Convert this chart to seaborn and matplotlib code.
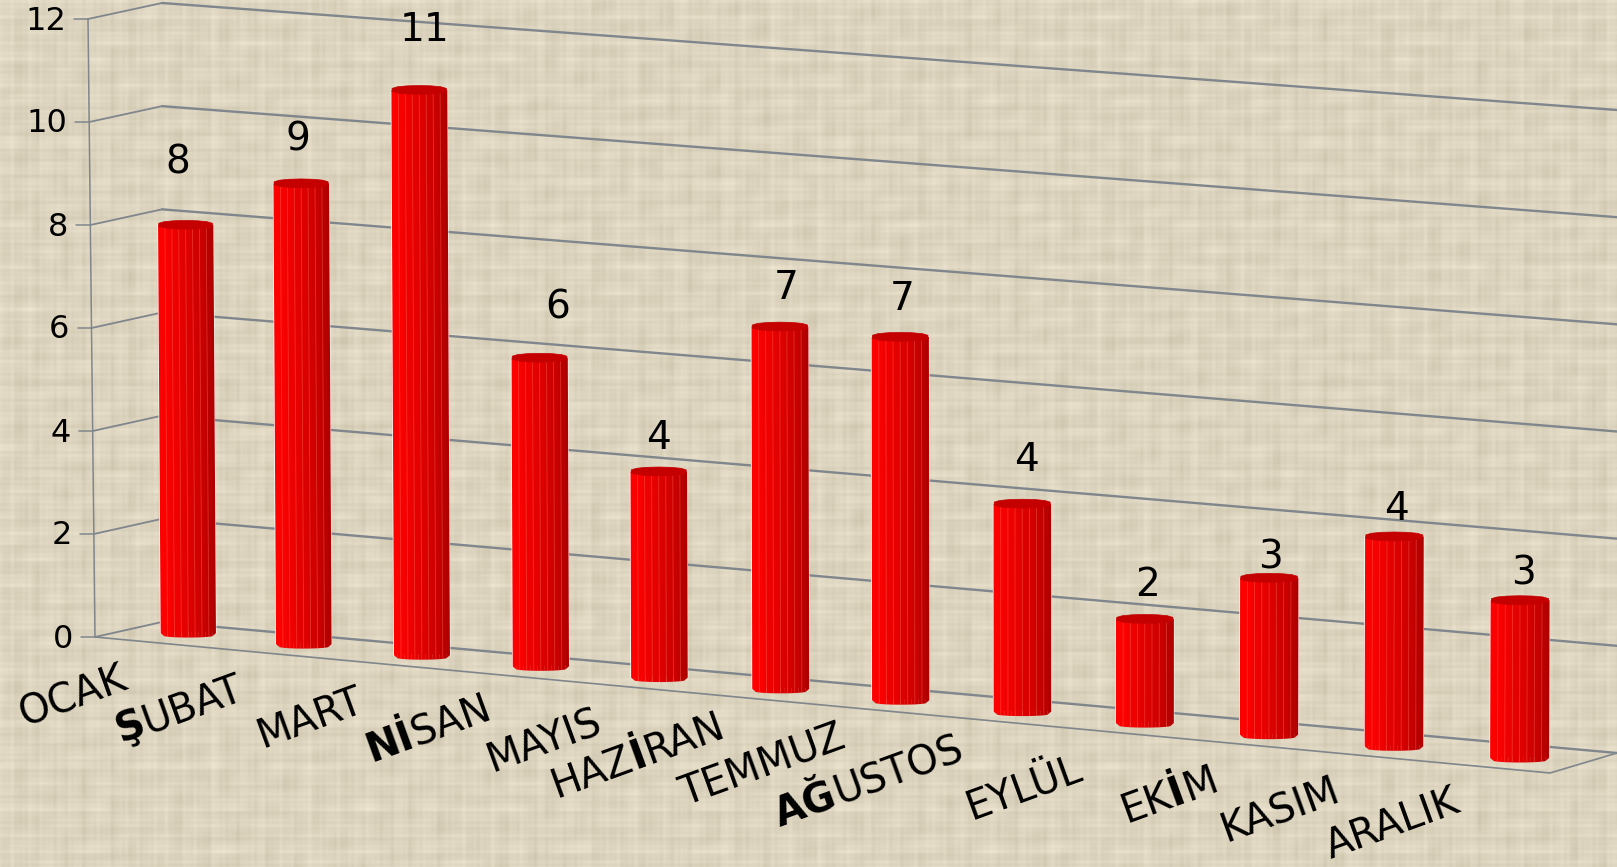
import numpy as np
import pandas as pd
import seaborn as sns
import matplotlib
matplotlib.use("Agg")
import matplotlib.pyplot as plt
from matplotlib.patches import Polygon
from matplotlib.transforms import Affine2D, Transform

months = ["OCAK", "ŞUBAT", "MART", "NİSAN", "MAYIS", "HAZİRAN",
          "TEMMUZ", "AĞUSTOS", "EYLÜL", "EKİM", "KASIM", "ARALIK"]
values = [8, 9, 11, 6, 4, 7, 7, 4, 2, 3, 4, 3]
y_ticks = [0, 2, 4, 6, 8, 10, 12]
# how many leading letters are bold, and single bold letters further in
bold_head = [0, 1, 0, 2, 0, 0, 0, 2, 0, 0, 0, 0]
bold_inner = {"HAZİRAN": 3, "EKİM": 2}

# label and bar placement tweaks, in image pixels
value_lift = [62, 44, 60, 50, 33, 39, 38, 44, 34, 20, 27, 27]
value_shift = [-8, -3, 5, 18, 0, 6, 2, 4, 3, 1, 2, 3]
bar_nudge = [0, -2, -2, -2, -3, -2, -3, -3, -3, -2, -1, 0]
month_x = [72, 178, 309, 428, 543, 637, 761, 868, 1023, 1168, 1279, 1392]
month_y = [694, 707, 716, 727, 739, 754, 763, 779, 786, 793, 808, 822]

W, H = 1617, 867
GRID = "#7f868c"
ANGLE = 20


def homography(src, dst):
    A, b = [], []
    for (x, y), (u, v) in zip(src, dst):
        A.append([x, y, 1, 0, 0, 0, -u * x, -u * y])
        A.append([0, 0, 0, x, y, 1, -v * x, -v * y])
        b += [u, v]
    return np.append(np.linalg.solve(np.array(A, float), np.array(b, float)), 1).reshape(3, 3)


class Perspective(Transform):
    input_dims = 2
    output_dims = 2

    def __init__(self, m):
        super().__init__()
        self.m = m

    def transform_non_affine(self, values):
        pts = np.asarray(values, float)
        p = np.c_[pts, np.ones(len(pts))] @ self.m.T
        return p[:, :2] / p[:, 2:3]


sns.set_theme(style="white")
plt.rcParams["font.family"] = ["DejaVu Sans"]

fig = plt.figure(figsize=(W / 100, H / 100), dpi=100)

# linen background
yy, xx = np.mgrid[0:H, 0:W]
rows = sum(a * np.sin(yy / p + q) for a, p, q in
           [(1.0, 0.83, 0.3), (1.0, 1.37, 1.9), (0.9, 2.21, 0.7), (0.7, 3.3, 2.2), (0.5, 7.1, 1.1)])
cols = sum(a * np.sin(xx / p + q) for a, p, q in
           [(1.0, 0.91, 1.3), (1.0, 1.53, 0.4), (0.9, 2.47, 2.7), (0.7, 3.7, 0.2), (0.5, 8.3, 1.7)])
patch_a = np.sin(xx / 11 + 1.2 * np.sin(yy / 17)) * np.sin(yy / 7 + 0.8 * np.sin(xx / 23))
patch_b = np.sin(xx / 5 + yy / 61) * np.sin(yy / 29 - xx / 87)
patch_c = np.sin(yy / 4 + xx / 83) * np.sin(xx / 37 + yy / 41)
shade = 2.6 * rows * (0.7 + 0.3 * patch_a) + 2.6 * cols * (0.7 - 0.3 * patch_a) + 3 * patch_a + 3 * patch_b + 3 * patch_c
texture = np.stack([222 + shade, 213 + shade, 192 + shade * 1.1], axis=2)
bg = fig.add_axes([0, 0, 1, 1], zorder=0)
bg.imshow(np.clip(texture, 0, 255).astype(np.uint8), aspect="auto", interpolation="bilinear")
bg.set_axis_off()

ax = fig.add_axes([0, 0, 1, 1], zorder=1)
df = pd.DataFrame({"ay": months, "adet": values})
sns.barplot(data=df, x="ay", y="adet", color="#e60000", width=0.47, ax=ax, zorder=3)
ax.set_xlim(-0.5, 11.5)
ax.set_ylim(0, 12)
ax.patch.set_alpha(0)
ax.set_axis_off()

# image pixels -> axes, y pointing down
px = Affine2D().scale(1 / W, -1 / H).translate(0, 1) + ax.transAxes
bar_persp = Perspective(homography(
    [(0, 0), (0, 8), (11, 0), (11, 3)],
    [(188.2, 633.2), (185.6, 224.8), (1519.5, 758), (1520, 600.2)]))
wall_plane = Perspective(homography(
    [(-0.5, 0), (-0.5, 12), (11.5, 0), (11.5, 12)],
    [(162, 622), (162, 3), (1617, 753), (1617, 110)])) + px
front_edge = Perspective(homography(
    [(0, 0), (0, 12), (1, 0), (1, 12)],
    [(95, 637), (88, 19), (96, 637.5), (89, 19.5)])) + px

# back wall, side wall, floor
for t in y_ticks:
    ax.plot([-0.5, 11.5], [t, t], color=GRID, lw=1.7, transform=wall_plane, zorder=1)
    p0 = front_edge.transform((0, t))
    p1 = wall_plane.transform((-0.5, t))
    ax.plot([p0[0], p1[0]], [p0[1], p1[1]], color=GRID, lw=1.3, transform=None, zorder=1)
    ax.plot([p0[0] - fig.dpi * 0.14, p0[0]], [p0[1], p0[1]], color=GRID, lw=1.1, transform=None, zorder=1)
    ax.annotate(str(t), xy=(0, t), xycoords=front_edge, xytext=(-22, -2), textcoords="offset pixels",
                ha="right", va="center", fontsize=23, color="black", zorder=6)
ax.plot([95, 88], [637, 19], color=GRID, lw=1.1, transform=px, zorder=1)
ax.plot([95, 1550, 1617], [637, 773, 753], color=GRID, lw=1.2, transform=px, zorder=1)

# cylinders built from the seaborn bars: upright, only their foot and head follow the plane
n_strips = 16
bar_tops = []
for i, bar in enumerate(ax.patches[:len(values)]):
    x0, w, v = bar.get_x(), bar.get_width(), bar.get_height()
    bx, by = bar_persp.transform((i, 0))
    tx, ty = bar_persp.transform((i, v))
    sx = (bar_persp.transform((i + 0.5, 0))[0] - bar_persp.transform((i - 0.5, 0))[0])
    local = Affine2D(np.array([[sx, (tx - bx) / v, bx + bar_nudge[i] - i * sx],
                               [0, (ty - by) / v, by],
                               [0, 0, 1]])) + px
    bar.set_transform(local)
    bar_tops.append(local)
    edges = np.linspace(0, 1, n_strips + 1)
    sag = 0.085 * np.sqrt(np.clip(1 - (2 * edges - 1) ** 2, 0, 1)) ** 0.5
    for k in range(n_strips):
        t = (edges[k] + edges[k + 1]) / 2
        g = np.interp(t, [0, 0.15, 0.5, 0.8, 1], [255, 250, 224, 200, 172])
        col = (g / 255, 0, 0)
        xa, xb = x0 + edges[k] * w, x0 + edges[k + 1] * w
        ax.add_patch(Polygon([(xa, -sag[k]), (xb + 0.002, -sag[k + 1]), (xb + 0.002, v), (xa, v)],
                             closed=True, facecolor=col, edgecolor="none",
                             transform=local, zorder=4))
        if 1 < k < n_strips - 1 and k % 2 == 0:
            ax.plot([xa, xa], [-sag[k], v], color="#ff6a5a", lw=0.6, alpha=0.45,
                    transform=local, zorder=4.5)
    ang = np.linspace(0, 2 * np.pi, 15)[:-1] + np.pi / 14
    cap = np.c_[x0 + w / 2 + 0.5 * w * np.cos(ang), v + 0.085 * np.sign(np.sin(ang)) * np.abs(np.sin(ang)) ** 0.7]
    ax.add_patch(Polygon(cap, closed=True, facecolor="#c40000", edgecolor="#c40000", lw=0.5,
                         transform=local, zorder=5))

for i, v in enumerate(values):
    ax.annotate(str(v), xy=(i, v), xycoords=bar_tops[i], xytext=(value_shift[i], value_lift[i]),
                textcoords="offset pixels", ha="center", va="center", fontsize=28,
                color="black", zorder=6)

# month names run along a slanted baseline, some letters are heavier
fig.canvas.draw()
renderer = fig.canvas.get_renderer()
rad = np.deg2rad(ANGLE)
for i, name in enumerate(months):
    flags = [j < bold_head[i] or bold_inner.get(name) == j for j in range(len(name))]
    runs, j = [], 0
    while j < len(name):
        e = j
        while e < len(name) and flags[e] == flags[j]:
            e += 1
        runs.append((name[j:e], flags[j]))
        j = e
    pieces = []
    total = 0
    for s, heavy in runs:
        txt = ax.text(0, 0, s, fontsize=28.5, color="black", fontweight="bold" if heavy else "normal",
                      ha="left", va="baseline", rotation_mode="anchor", transform=px, zorder=6)
        wid = txt.get_window_extent(renderer).width
        pieces.append((txt, wid))
        total += wid
    sx = month_x[i] - total / 2 * np.cos(rad) + 14 * np.sin(rad)
    sy = month_y[i] + total / 2 * np.sin(rad) + 14 * np.cos(rad)
    for txt, wid in pieces:
        txt.set_position((sx, sy))
        txt.set_rotation(ANGLE)
        sx += wid * np.cos(rad)
        sy -= wid * np.sin(rad)

fig.savefig("out.png", dpi=100)
